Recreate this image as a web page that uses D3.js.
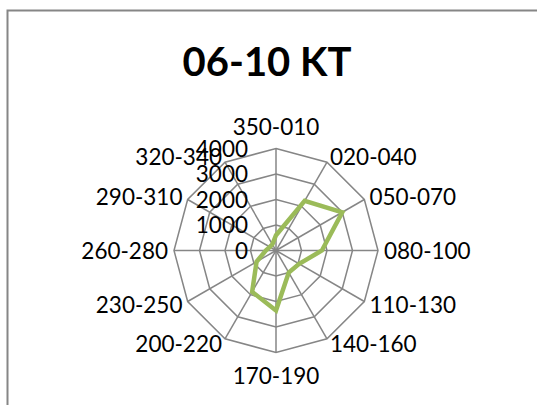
<!DOCTYPE html>
<html>
<meta charset="UTF-8" />
<script src="https://cdn.jsdelivr.net/npm/d3@7/dist/d3.min.js"></script>
<style>
*{margin:0; padding:0;}
body{background-color:#ffffff;}
text{font-family:Lato, "Open Sans", sans-serif;}
</style>
<body>
<div id="svgcontainer"></div>
<script type="text/javascript">
// data
var categories = ["350-010","020-040","050-070","080-100","110-130","140-160",
	"170-190","200-220","230-250","260-280","290-310","320-340"];
var values = [600, 2250, 3000, 1800, 1050, 1000, 2350, 1870, 880, 400, 280, 280];
var ticks = [0, 1000, 2000, 3000, 4000];
var title = "06-10 KT";

var width = 537;
var height = 405;
var cx = 276, cy = 250.5, R = 102;
var fs = "22.5px";

var svg = d3.select("#svgcontainer")
.append("svg")
.attr("width", width)
.attr("height", height);

// chart frame (only top and left visible)
svg.append("rect")
.attr("x", 7.5)
.attr("y", 10.5)
.attr("width", 600)
.attr("height", 600)
.attr("fill", "none")
.style("stroke", "#868686")
.style("stroke-width", 2);

svg.append("text")
.attr("x", 267)
.attr("y", 76)
.attr("text-anchor", "middle")
.style("font-size", "40px")
.style("font-weight", "bold")
.text(title);

var r = d3.scaleLinear().domain([0, 4000]).range([0, R]);
var ang = d3.scaleLinear().domain([0, categories.length]).range([0, 2*Math.PI]);

var g = svg.append("g").attr("transform", "translate(" + cx + "," + cy + ")");

// grid polygons
var ring = d3.lineRadial()
.angle(function(d, i){ return ang(i); })
.radius(function(d){ return r(d); })
.curve(d3.curveLinearClosed);

ticks.slice(1).forEach(function(t){
	g.append("path")
	.attr("d", ring(categories.map(function(){ return t; })))
	.attr("fill", "none")
	.style("stroke", "#868686")
	.style("stroke-width", 1.5);
});

// spokes
categories.forEach(function(c, i){
	var a = ang(i);
	g.append("line")
	.attr("x1", 0).attr("y1", 0)
	.attr("x2", R*Math.sin(a))
	.attr("y2", -R*Math.cos(a))
	.style("stroke", "#868686")
	.style("stroke-width", 1.5);
});

// data line
g.append("path")
.attr("d", ring(values))
.attr("fill", "none")
.style("stroke", "#9bbb59")
.style("stroke-width", 4.5)
.style("stroke-linejoin", "miter");

// tick labels
ticks.forEach(function(t){
	g.append("text")
	.attr("x", -28)
	.attr("y", -r(t))
	.attr("dy", "0.36em")
	.attr("text-anchor", "end")
	.style("font-size", fs)
	.text(t);
});

// category labels
categories.forEach(function(c, i){
	var a = ang(i);
	var s = Math.sin(a), co = Math.cos(a);
	var lbl = g.append("text").style("font-size", fs).attr("dy", "0.36em").text(c);
	if (Math.abs(s) < 0.01) {
		// top / bottom
		lbl.attr("x", 0)
		.attr("y", co > 0 ? -(R + 22) : R + 23)
		.attr("text-anchor", "middle");
	} else {
		lbl.attr("x", (R + 6)*s)
		.attr("y", -(R + 6)*co)
		.attr("text-anchor", s > 0 ? "start" : "end");
	}
});
</script>
</body>
</html>
